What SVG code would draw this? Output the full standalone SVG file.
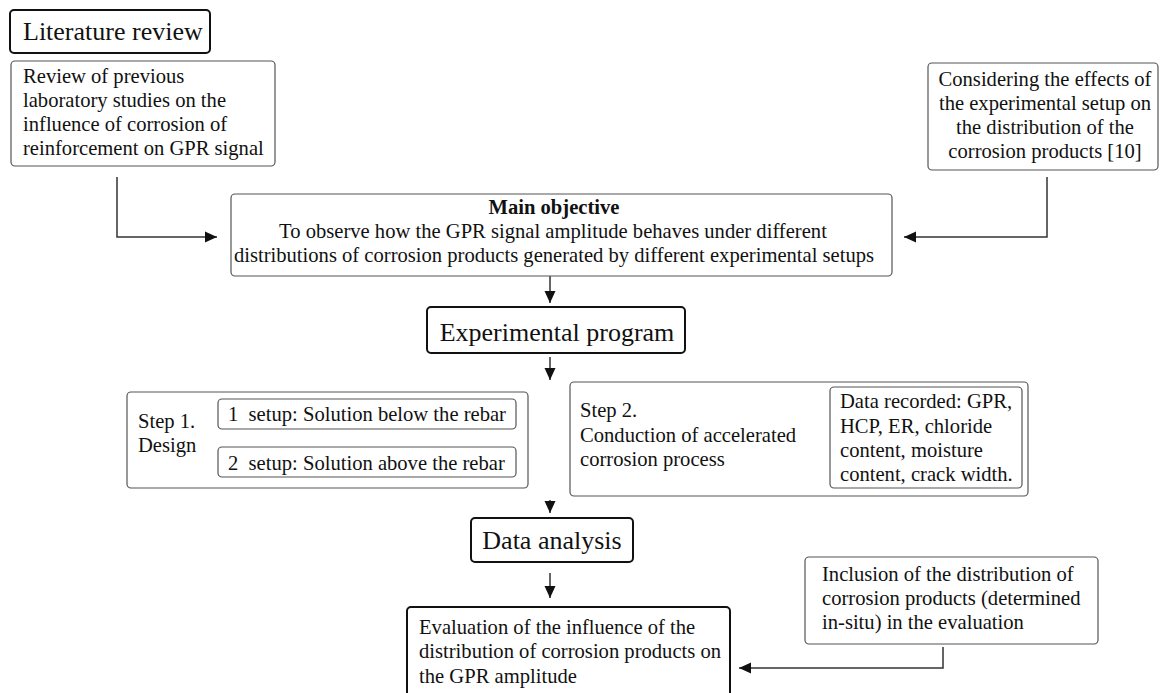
<svg xmlns="http://www.w3.org/2000/svg" width="1162" height="693" viewBox="0 0 1162 693">
<defs>
<style>
text{font-family:"Liberation Serif","Times New Roman",serif;fill:#111;font-size:20.6px;white-space:pre}
.big{font-size:26px}
.b{font-weight:bold}
.box{fill:#fff;stroke:#555;stroke-width:1.2}
.bold{fill:#fff;stroke:#111;stroke-width:2}
.con{fill:none;stroke:#333;stroke-width:1.5}
</style>
<marker id="ah" markerWidth="12" markerHeight="12" viewBox="0 0 12 12" refX="12" refY="6" orient="auto" markerUnits="userSpaceOnUse">
<path d="M0,0.5 L12,6 L0,11.5 Z" fill="#111"/>
</marker>
</defs>
<rect width="1162" height="693" fill="#fff"/>
<g id="connectors">
<path class="con" d="M117,177 V237 H217" marker-end="url(#ah)"/>
<path class="con" d="M1047,177 V237 H904" marker-end="url(#ah)"/>
<path class="con" d="M550,276 V303" marker-end="url(#ah)"/>
<path class="con" d="M550,357 V380" marker-end="url(#ah)"/>
<path class="con" d="M550,500 V513" marker-end="url(#ah)"/>
<path class="con" d="M550,573 V598" marker-end="url(#ah)"/>
<path class="con" d="M943,647 V668 H739" marker-end="url(#ah)"/>
</g>
<g id="literature-review">
<rect class="bold" x="10" y="10" width="200" height="43" rx="4"/>
<text class="big" x="23" y="40">Literature review</text>
</g>
<g id="review-previous">
<rect class="box" x="11" y="61" width="264" height="105" rx="4"/>
<text x="23" y="83">Review of previous</text>
<text x="23" y="107">laboratory studies on the</text>
<text x="23" y="131">influence of corrosion of</text>
<text x="23" y="155">reinforcement on GPR signal</text>
</g>
<g id="considering-effects">
<rect class="box" x="928" y="63" width="230" height="107" rx="4"/>
<text text-anchor="middle" x="1045" y="86">Considering the effects of</text>
<text text-anchor="middle" x="1045" y="110">the experimental setup on</text>
<text text-anchor="middle" x="1045" y="134">the distribution of the</text>
<text text-anchor="middle" x="1045" y="158">corrosion products [10]</text>
</g>
<g id="main-objective">
<rect class="box" x="231" y="194" width="661" height="82" rx="4"/>
<text class="b" text-anchor="middle" x="554" y="214">Main objective</text>
<text text-anchor="middle" x="553" y="238">To observe how the GPR signal amplitude behaves under different</text>
<text text-anchor="middle" x="554" y="262">distributions of corrosion products generated by different experimental setups</text>
</g>
<g id="experimental-program">
<rect class="bold" x="427" y="307" width="258" height="46" rx="4"/>
<text class="big" text-anchor="middle" x="557" y="341">Experimental program</text>
</g>
<g id="step1">
<rect class="box" x="127" y="392" width="401" height="96" rx="4"/>
<text x="138" y="428">Step 1.</text>
<text x="138" y="452">Design</text>
</g>
<g id="setup1">
<rect class="box" x="218" y="399" width="298" height="30" rx="4"/>
<text x="228" y="421">1  setup: Solution below the rebar</text>
</g>
<g id="setup2">
<rect class="box" x="218" y="447" width="298" height="30" rx="4"/>
<text x="228" y="470">2  setup: Solution above the rebar</text>
</g>
<g id="step2">
<rect class="box" x="570" y="382" width="458" height="114" rx="4"/>
<text x="580" y="417">Step 2.</text>
<text x="580" y="442">Conduction of accelerated</text>
<text x="580" y="466">corrosion process</text>
</g>
<g id="data-recorded">
<rect class="box" x="830" y="387" width="192" height="101" rx="4"/>
<text x="840" y="408">Data recorded: GPR,</text>
<text x="840" y="433">HCP, ER, chloride</text>
<text x="840" y="457">content, moisture</text>
<text x="840" y="481">content, crack width.</text>
</g>
<g id="data-analysis">
<rect class="bold" x="471" y="518" width="162" height="44" rx="4"/>
<text class="big" text-anchor="middle" x="552" y="549">Data analysis</text>
</g>
<g id="inclusion">
<rect class="box" x="805" y="557" width="293" height="87" rx="4"/>
<text x="822" y="581">Inclusion of the distribution of</text>
<text x="822" y="605">corrosion products (determined</text>
<text x="822" y="629">in-situ) in the evaluation</text>
</g>
<g id="evaluation">
<rect class="bold" x="407" y="607" width="323" height="100" rx="4"/>
<text x="419" y="634">Evaluation of the influence of the</text>
<text x="419" y="658">distribution of corrosion products on</text>
<text x="419" y="683">the GPR amplitude</text>
</g>
</svg>
